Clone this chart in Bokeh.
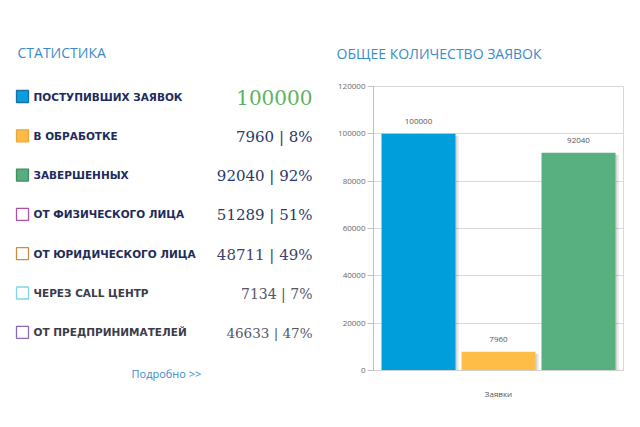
from bokeh.plotting import figure
from bokeh.layouts import row, column
from bokeh.models import Range1d, FactorRange, ColumnDataSource, FixedTicker, NumeralTickFormatter
from bokeh.transform import dodge
from bokeh.core.properties import value
from bokeh.embed import file_html
from bokeh.resources import INLINE

# ---- data ----
stat_labels = ["ПОСТУПИВШИХ ЗАЯВОК", "В ОБРАБОТКЕ", "ЗАВЕРШЕННЫХ", "ОТ ФИЗИЧЕСКОГО ЛИЦА",
               "ОТ ЮРИДИЧЕСКОГО ЛИЦА", "ЧЕРЕЗ CALL ЦЕНТР", "ОТ ПРЕДПРИНИМАТЕЛЕЙ"]
stat_counts = [100000, 7960, 92040, 51289, 48711, 7134, 46633]
stat_pcts = [None, 8, 92, 51, 49, 7, 47]
square_fill = ["#0a9fdc", "#fdbb45", "#57ad7e", None, None, None, None]
square_line = ["#1b6fa8", "#e9a93a", "#3f8f63", "#b0509e", "#c9913f", "#7ed6ec", "#8a69b6"]

categories = ["Заявки"]
series_names = ["Поступивших", "В обработке", "Завершенных"]
series_values = [100000, 7960, 92040]
series_colors = ["#009fdb", "#fdbd46", "#58b081"]
y_ticks = [0, 20000, 40000, 60000, 80000, 100000, 120000]

H = 427
TOP, BOTTOM = 86, 370          # chart frame, canvas pixels
W_L = 334

# ---- left panel: coords = canvas pixels ----
left = figure(width=W_L, height=H, x_range=Range1d(0, W_L), y_range=Range1d(H, 0),
              output_backend="svg", toolbar_location=None, min_border=0)
left.axis.visible = False
left.grid.visible = False
left.outline_line_color = None

left.text(x=[17], y=[52], text=["СТАТИСТИКА"], text_font=value("Open Sans"),
          text_font_size="14px", text_color="#3a8bc8", text_baseline="middle")

row_y = [96 + i * 39.3 for i in range(len(stat_labels))]
fills = [c if c else "white" for c in square_fill]
left.rect(x=[22] * len(row_y), y=row_y, width=12, height=12, fill_color=fills,
          line_color=square_line, line_width=1.3)

label_colors = ["#1d2c5a", "#1d2c5a", "#1d2c5a", "#1d2c5a", "#1d2c5a", "#3c3c48", "#3c3c48"]
left.text(x=[33] * len(row_y), y=row_y, text=stat_labels, text_font=value("DejaVu Sans"),
          text_font_style="bold", text_font_size="10.5px", text_color=label_colors,
          text_baseline="middle")

val_texts = []
for c, p_ in zip(stat_counts, stat_pcts):
    val_texts.append(str(c) if p_ is None else f"{c} | {p_}%")
val_colors = ["#5db35d", "#2a3768", "#2a3768", "#2a3768", "#3a4570", "#555566", "#555566"]
val_sizes = ["20px", "15px", "15px", "15px", "15px", "14px", "13.5px"]
src_v = ColumnDataSource(dict(x=[312] * len(row_y), y=[y + 1 for y in row_y], t=val_texts,
                              c=val_colors, s=val_sizes))
left.text(x="x", y="y", text="t", source=src_v, text_font=value("DejaVu Serif"),
          text_font_size="s", text_color="c", text_align="right", text_baseline="middle")

left.text(x=[131], y=[373], text=["Подробно >>"], text_font=value("Open Sans"),
          text_font_size="11px", text_color="#3a8bc8", text_baseline="middle")

# ---- right panel (chart) ----
W_R = 640 - W_L
p = figure(width=W_R, height=H, x_range=FactorRange(*categories), y_range=Range1d(0, 120000),
           output_backend="svg", toolbar_location=None, title="ОБЩЕЕ КОЛИЧЕСТВО ЗАЯВОК",
           min_border_left=39, min_border_right=17, min_border_top=TOP, min_border_bottom=H - BOTTOM)
p.title.align = "left"
p.title.offset = -37
p.title.standoff = 48
p.title.text_font = "Open Sans"
p.title.text_font_style = "normal"
p.title.text_font_size = "14px"
p.title.text_color = "#3a8bc8"
p.x_range.range_padding = 0
p.outline_line_color = "#d8d8d8"
p.xgrid.visible = False
p.ygrid.grid_line_color = "#d9d9d9"
p.ygrid.ticker = FixedTicker(ticks=y_ticks)

p.yaxis.ticker = FixedTicker(ticks=y_ticks)
p.yaxis.formatter = NumeralTickFormatter(format="0")
p.yaxis.axis_line_color = "#c0c0c0"
p.yaxis.major_tick_line_color = "#c0c0c0"
p.yaxis.major_tick_out = 6
p.yaxis.major_tick_in = 0
p.yaxis.minor_tick_line_color = None
p.yaxis.major_label_standoff = 2
p.yaxis.major_label_text_font = "Open Sans"
p.yaxis.major_label_text_font_size = "8px"
p.yaxis.major_label_text_color = "#666666"

p.xaxis.axis_line_color = "#d0d0d0"
p.xaxis.major_tick_line_color = None
p.xaxis.major_label_standoff = 11
p.xaxis.major_label_text_font = "Open Sans"
p.xaxis.major_label_text_font_size = "8px"
p.xaxis.major_label_text_color = "#555555"

offsets = [-0.32, 0.0, 0.32]
bar_w = 0.296
for name, v, col, off in zip(series_names, series_values, series_colors, offsets):
    src = ColumnDataSource(dict(cat=categories, top=[v], shadow=[v - 900], lbl=[str(v)]))
    p.vbar(x=dodge("cat", off + 0.014, range=p.x_range), top="shadow", width=bar_w,
           source=src, fill_color="#000000", fill_alpha=0.07, line_color=None)
    p.vbar(x=dodge("cat", off + 0.007, range=p.x_range), top="shadow", width=bar_w,
           source=src, fill_color="#000000", fill_alpha=0.1, line_color=None)
    p.vbar(x=dodge("cat", off, range=p.x_range), top="top", width=bar_w, source=src,
           fill_color=col, line_color=None)
    p.text(x=dodge("cat", off, range=p.x_range), y="top", text="lbl", source=src,
           text_font=value("Open Sans"), text_font_size="8px", text_color="#555555",
           text_align="center", text_baseline="bottom", y_offset=-10)

layout = row(column(left), p)
open("out.html", "w").write(file_html(layout, INLINE))
